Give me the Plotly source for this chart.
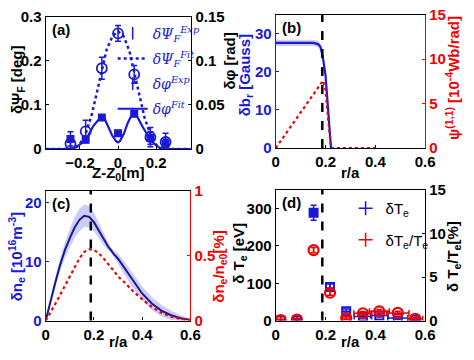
import plotly.graph_objects as go

# ---------------- data ----------------
# panel (a)
z_exp = [-0.25, -0.17, -0.085, 0.0, 0.085, 0.17, 0.25]
psi_exp = [0.012, 0.040, 0.183, 0.262, 0.169, 0.027, 0.016]
psi_err = [0.012, 0.025, 0.025, 0.018, 0.020, 0.022, 0.020]
phi_exp = [0.0115, 0.0105, 0.0356, 0.0180, 0.0400, 0.0125, 0.0060]
phi_err = [0.008, 0.003, 0.003, 0.003, 0.003, 0.007, 0.005]
psi_fit_z = [-0.38, -0.3, -0.25, -0.22, -0.2, -0.17, -0.14, -0.11, -0.085, -0.06, -0.03, 0.0,
             0.03, 0.06, 0.085, 0.11, 0.14, 0.17, 0.2, 0.22, 0.25, 0.3, 0.38]
psi_fit = [0, 0, 0, 0.005, 0.012, 0.035, 0.075, 0.13, 0.181, 0.225, 0.255, 0.267,
           0.255, 0.222, 0.174, 0.125, 0.07, 0.033, 0.01, 0.003, 0, 0, 0]
phi_fit_z = [-0.38, -0.25, -0.22, -0.19, -0.16, -0.13, -0.1, -0.085, -0.07, -0.05, -0.03, -0.01, 0.0,
             0.01, 0.03, 0.05, 0.07, 0.085, 0.1, 0.13, 0.16, 0.19, 0.22, 0.25, 0.38]
phi_fit = [0, 0, 0.002, 0.007, 0.014, 0.026, 0.034, 0.036, 0.034, 0.025, 0.015, 0.009, 0.0075,
           0.009, 0.017, 0.029, 0.038, 0.040, 0.037, 0.025, 0.014, 0.006, 0.001, 0, 0]

# panel (b)
r_b = [0, 0.05, 0.1, 0.15, 0.17, 0.18, 0.185, 0.19, 0.2, 0.21, 0.218, 0.222]
br = [27.6, 27.6, 27.6, 27.6, 27.3, 26.5, 25.0, 23.5, 19.0, 10.0, 3.0, 0.0]
br_err = [0.8, 0.8, 0.8, 0.8, 0.8, 0.8, 0.8, 0.8, 0.8, 0.8, 0.6, 0.3]
r_psi = [0, 0.19, 0.2, 0.21, 0.22, 0.225, 0.4]
psi11 = [0, 7.6, 6.5, 3.5, 0.5, 0.0, 0.0]

# panel (c)
r_c = [0, 0.02, 0.04, 0.06, 0.08, 0.1, 0.12, 0.14, 0.16, 0.18, 0.2, 0.22, 0.24, 0.26, 0.27,
       0.28, 0.3, 0.33, 0.36, 0.4, 0.44, 0.48, 0.52, 0.56, 0.6]
ne = [0, 3.5, 6.5, 9.5, 12.0, 14.0, 15.8, 17.1, 17.8, 17.6, 16.7, 15.3, 13.8, 12.5, 12.0,
      11.4, 10.5, 8.7, 6.8, 4.6, 2.9, 1.7, 0.9, 0.4, 0.1]
ne_err = [0, 0.4, 0.8, 1.1, 1.4, 1.6, 1.8, 1.9, 1.9, 1.8, 1.6, 1.3, 1.0, 0.6, 0.4, 0.6, 0.9,
          1.1, 1.2, 1.2, 1.1, 1.0, 0.8, 0.5, 0.2]
ne_rel = [0, 0.06, 0.13, 0.2, 0.27, 0.35, 0.42, 0.48, 0.53, 0.55, 0.545, 0.52, 0.48, 0.43, 0.41,
          0.39, 0.34, 0.29, 0.23, 0.165, 0.105, 0.06, 0.03, 0.012, 0.003]

# panel (d)
r_d = [0.02, 0.085, 0.152, 0.218, 0.283, 0.35, 0.416, 0.49, 0.56]
te = [0, 0, 289, 90, 25, 11, 13.5, 7, 2.5]
te_err = [2, 2, 20, 8, 6, 4, 4, 4, 2]
te_xerr = [0, 0, 0, 0, 0.015, 0.035, 0.035, 0.04, 0.02]
te_rel = [0.05, 0.1, 8.1, 3.2, 0.3, 0.84, 1.06, 0.88, 0.2]
te_rel_err = [0.1, 0.15, 0.3, 0.3, 0.2, 0.2, 0.2, 0.2, 0.15]
te_rel_xerr = [0, 0, 0, 0, 0.015, 0.036, 0.04, 0.045, 0.03]
te_symbols = ["square-open", "square-open", "square", "square-open", "square-open",
              "square-open", "square-open", "square-open", "square-open"]

q1_radius = 0.187

BLUE = "rgb(25,25,215)"
NAVY = "rgb(25,25,140)"
RED = "rgb(240,0,0)"
BAND = "rgba(110,110,230,0.35)"

W, H = 474, 360


def px(x):
    return x / W


def py(y):
    return 1 - y / H


fig = go.Figure()

# ---------- panel (a) ----------
fig.add_trace(go.Scatter(x=psi_fit_z, y=psi_fit, mode="lines", xaxis="x", yaxis="y",
                         line=dict(color=BLUE, width=2.5, dash="dot"), showlegend=False))
fig.add_trace(go.Scatter(x=phi_fit_z, y=phi_fit, mode="lines", xaxis="x", yaxis="y2",
                         line=dict(color=BLUE, width=2.2), showlegend=False))
fig.add_trace(go.Scatter(x=z_exp, y=psi_exp, mode="markers", xaxis="x", yaxis="y",
                         error_y=dict(array=psi_err, color=BLUE, thickness=1.5, width=3),
                         marker=dict(symbol="circle-open", size=10, color=BLUE, line=dict(width=1.8)),
                         showlegend=False))
fig.add_trace(go.Scatter(x=z_exp, y=phi_exp, mode="markers", xaxis="x", yaxis="y2",
                         error_y=dict(array=phi_err, color=BLUE, thickness=1.5, width=3),
                         marker=dict(symbol="square", size=8, color=BLUE),
                         showlegend=False))
# legend entries (a)
leg_a = [
    ("δΨ<sub>F</sub><sup>Exp</sup>", dict(mode="markers", marker=dict(symbol="line-ns-open", size=9, color=BLUE, line=dict(width=1.5)))),
    ("δΨ<sub>F</sub><sup>Fit</sup>", dict(mode="lines", line=dict(color=BLUE, width=2.5, dash="dot"))),
    ("δφ<sup>Exp</sup>", dict(mode="markers", marker=dict(symbol="line-ns-open", size=9, color=BLUE, line=dict(width=1.5)))),
    ("δφ<sup>Fit</sup>", dict(mode="lines", line=dict(color=BLUE, width=2.2))),
]
for i, (name, kw) in enumerate(leg_a):
    fig.add_trace(go.Scatter(x=[None], y=[None], name=name, xaxis="x", yaxis="y",
                             legend="legend", legendgroup=f"a{i}", **kw))

# ---------- panel (b) ----------
fig.add_trace(go.Scatter(x=r_b + r_b[::-1],
                         y=[v + e for v, e in zip(br, br_err)] + [v - e for v, e in zip(br[::-1], br_err[::-1])],
                         fill="toself", fillcolor=BAND, line=dict(width=0), mode="lines",
                         xaxis="x2", yaxis="y3", showlegend=False, hoverinfo="skip"))
fig.add_trace(go.Scatter(x=r_b, y=br, mode="lines", xaxis="x2", yaxis="y3",
                         line=dict(color=BLUE, width=2.2), showlegend=False))
fig.add_trace(go.Scatter(x=r_psi, y=psi11, mode="lines", xaxis="x2", yaxis="y4",
                         line=dict(color=RED, width=2.2, dash="dot"), showlegend=False))

# ---------- panel (c) ----------
fig.add_trace(go.Scatter(x=r_c + r_c[::-1],
                         y=[v + e for v, e in zip(ne, ne_err)] + [v - e for v, e in zip(ne[::-1], ne_err[::-1])],
                         fill="toself", fillcolor=BAND, line=dict(width=0), mode="lines",
                         xaxis="x3", yaxis="y5", showlegend=False, hoverinfo="skip"))
fig.add_trace(go.Scatter(x=r_c, y=ne, mode="lines", xaxis="x3", yaxis="y5",
                         line=dict(color=NAVY, width=2), showlegend=False))
fig.add_trace(go.Scatter(x=r_c, y=ne_rel, mode="lines", xaxis="x3", yaxis="y6",
                         line=dict(color=RED, width=2.2, dash="dot"), showlegend=False))

# ---------- panel (d) ----------
fig.add_trace(go.Scatter(x=r_d, y=te, mode="markers", xaxis="x4", yaxis="y7",
                         error_y=dict(array=te_err, color=BLUE, thickness=1.5, width=3),
                         error_x=dict(array=te_xerr, color=BLUE, thickness=1.5, width=3),
                         marker=dict(symbol=te_symbols, size=8, color=BLUE, line=dict(width=2, color=BLUE)),
                         showlegend=False))
fig.add_trace(go.Scatter(x=r_d, y=te_rel, mode="markers", xaxis="x4", yaxis="y8",
                         error_y=dict(array=te_rel_err, color=RED, thickness=1.5, width=3),
                         error_x=dict(array=te_rel_xerr, color=RED, thickness=1.5, width=3),
                         marker=dict(symbol="circle-open", size=10, color=RED, line=dict(width=2.2)),
                         showlegend=False))
for name, col in [("δT<sub>e</sub>", BLUE), ("δT<sub>e</sub>/T<sub>e</sub>", RED)]:
    fig.add_trace(go.Scatter(x=[None], y=[None], name=name, mode="markers", xaxis="x4", yaxis="y7",
                             marker=dict(symbol="cross-thin-open", size=10, color=col, line=dict(width=1.5, color=col)),
                             legend="legend2", legendgroup=name))

# ---------- layout ----------
FONT = dict(family="Liberation Sans, Arial, sans-serif", size=15, color="black", weight="bold")


def xax(domain, rng, tickvals, anchor):
    return dict(domain=domain, range=rng, tickvals=tickvals, anchor=anchor, showgrid=False,
                zeroline=False, showline=True, linecolor="black", linewidth=1.2, mirror=True,
                ticks="inside", ticklen=3, tickcolor="black", tickfont=FONT)


def yax(domain, rng, tickvals, anchor, color, side="left", overlaying=None):
    d = dict(domain=domain, range=rng, tickvals=tickvals, anchor=anchor, showgrid=False,
             zeroline=False, showline=True, linecolor=color, linewidth=1.2, side=side,
             ticks="inside", ticklen=3, tickcolor=color, tickfont=dict(FONT, color=color))
    if overlaying:
        d["overlaying"] = overlaying
    return d


dom_ax = [px(43), px(193)]
dom_ay = [py(147), py(8)]
dom_bx = [px(280), px(434)]
dom_by = [py(146), py(6)]
dom_cx = [px(43), px(192)]
dom_cy = [py(327), py(191)]
dom_dx = [px(280), px(434)]
dom_dy = [py(327), py(190)]

fig.update_layout(
    width=W, height=H, autosize=False,
    margin=dict(l=0, r=0, t=0, b=0),
    paper_bgcolor="white", plot_bgcolor="white",
    font=FONT,
    xaxis=xax(dom_ax, [-0.38, 0.385], [-0.2, 0, 0.2], "y"),
    yaxis=yax(dom_ay, [0, 0.3], [0, 0.1, 0.2, 0.3], "x", "black"),
    yaxis2=yax(dom_ay, [0, 0.15], [0, 0.05, 0.1, 0.15], "x", "black", "right", "y"),
    xaxis2=xax(dom_bx, [0, 0.6], [0, 0.2, 0.4, 0.6], "y3"),
    yaxis3=yax(dom_by, [0, 35], [0, 10, 20, 30], "x2", BLUE),
    yaxis4=yax(dom_by, [0, 15], [0, 5, 10, 15], "x2", RED, "right", "y3"),
    xaxis3=xax(dom_cx, [0, 0.6], [0, 0.2, 0.4, 0.6], "y5"),
    yaxis5=yax(dom_cy, [0, 22], [0, 10, 20], "x3", BLUE),
    yaxis6=yax(dom_cy, [0, 1], [0, 0.5, 1], "x3", RED, "right", "y5"),
    xaxis4=xax(dom_dx, [0, 0.6], [0, 0.2, 0.4, 0.6], "y7"),
    yaxis7=yax(dom_dy, [0, 350], [0, 100, 200, 300], "x4", "black"),
    yaxis8=yax(dom_dy, [0, 15], [0, 5, 10, 15], "x4", "black", "right", "y7"),
    legend=dict(x=px(112), y=py(9), xanchor="left", yanchor="top", bgcolor="rgba(0,0,0,0)",
                font=dict(family="DejaVu Serif, serif", size=14, color=BLUE, style="italic", weight="normal"),
                tracegroupgap=4, itemwidth=30),
    legend2=dict(x=px(352), y=py(192), xanchor="left", yanchor="top", bgcolor="rgba(0,0,0,0)",
                 font=dict(family="Liberation Sans, Arial, sans-serif", size=15, color="black", weight="normal"),
                 tracegroupgap=9, itemwidth=30),
)

# dashed vertical lines at q=1 radius
for xr, yr in [("x2", "y3"), ("x3", "y5"), ("x4", "y7")]:
    fig.add_shape(type="line", xref=xr, yref=f"{yr} domain", x0=q1_radius, x1=q1_radius, y0=0, y1=1,
                  line=dict(color="black", width=2.5, dash="dash"))

# panel labels
for lab, x, y in [("(a)", 47, 21), ("(b)", 284, 19), ("(c)", 47, 204), ("(d)", 284, 203)]:
    fig.add_annotation(text=lab, xref="paper", yref="paper", x=px(x), y=py(y), xanchor="left",
                       yanchor="middle", showarrow=False, font=FONT)

# axis titles
titles = [
    ("Z-Z<sub>0</sub>[m]", 118, 173, 0, "black"),
    ("r/a", 357, 172, 0, "black"),
    ("r/a", 118, 349, 0, "black"),
    ("r/a", 357, 349, 0, "black"),
    ("δΨ<sub>F</sub> [deg]", 14, 75, -90, "black"),
    ("δφ [rad]", 232, 55, -90, "black"),
    ("δb<sub>r</sub> [Gauss]", 249, 70, -90, BLUE),
    ("ψ<sup>(1,1)</sup> [10<sup>-4</sup>Wb/rad]", 462, 72, -90, RED),
    ("δn<sub>e</sub> [10<sup>16</sup>m<sup>-3</sup>]", 13, 260, -90, BLUE),
    ("δn<sub>e</sub>/n<sub>e0</sub>[%]", 222, 270, -90, RED),
    ("δ T<sub>e</sub> [eV]", 243, 256, -90, "black"),
    ("δ T<sub>e</sub>/T<sub>e</sub>[%]", 463, 260, -90, "black"),
]
for txt, x, y, ang, col in titles:
    fig.add_annotation(text=txt, xref="paper", yref="paper", x=px(x), y=py(y), xanchor="center",
                       yanchor="middle", textangle=ang, showarrow=False, font=dict(FONT, color=col))

fig.write_html("out.html", config={"displayModeBar": False},
               post_script="document.body.style.margin='0';document.body.style.overflow='hidden';")
